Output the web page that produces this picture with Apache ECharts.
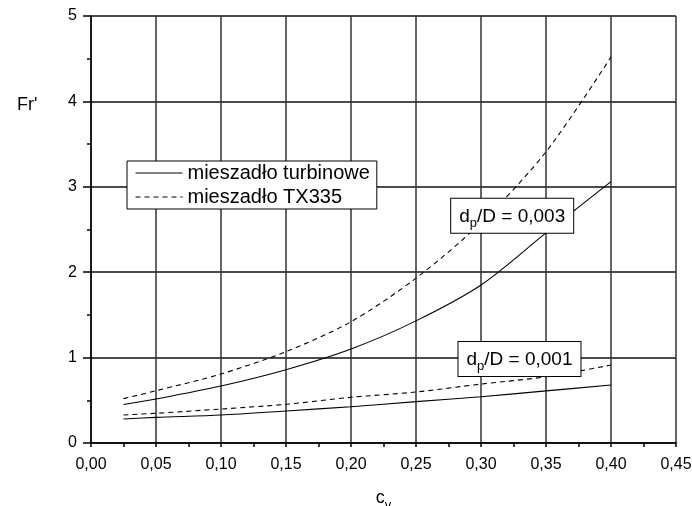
<!DOCTYPE html>
<html>
<head>
<meta charset="utf-8">
<script src="https://cdn.jsdelivr.net/npm/echarts@6/dist/echarts.min.js"></script>
<style>
  html, body { margin: 0; padding: 0; background: #fff; }
  #chart { width: 692px; height: 506px; }
</style>
</head>
<body>
<div id="chart"></div>
<script>
// c_v values where the curves were read
const cv = [0.025, 0.05, 0.10, 0.15, 0.20, 0.25, 0.30, 0.35, 0.40];
// dp/D = 0,003
const turb003 = [0.45, 0.515, 0.667, 0.858, 1.10, 1.43, 1.85, 2.46, 3.06];
const tx003 = [0.52, 0.612, 0.808, 1.07, 1.42, 1.93, 2.58, 3.41, 4.52];
// dp/D = 0,001
const turb001 = [0.281, 0.30, 0.328, 0.375, 0.425, 0.484, 0.542, 0.61, 0.68];
const tx001 = [0.328, 0.348, 0.398, 0.453, 0.535, 0.597, 0.69, 0.776, 0.913];

const seriesNames = ['mieszadło turbinowe', 'mieszadło TX335'];
// annotation anchors (data units) and their texts
const notes = [
  { at: [0.324, 2.66], value: '0,003' },
  { at: [0.3296, 0.984], value: '0,001' },
];

const font = 'Liberation Sans, Arial, sans-serif';
const gridColor = '#333';

const pairs = (ys) => ys.map((y, i) => [cv[i], y]);

const chart = echarts.init(document.getElementById('chart'));

const line = (name, ys, dashed) => ({
  name: name,
  type: 'line',
  data: pairs(ys),
  smooth: 0.3,
  symbol: 'none',
  silent: true,
  z: 3,
  lineStyle: { color: '#000', width: 1.1, type: dashed ? [5, 4] : 'solid' },
  itemStyle: { color: '#000' },
});

chart.setOption({
  animation: false,
  grid: { left: 91, right: 16, top: 16, bottom: 63, outerBoundsMode: 'none' },
  title: {
    text: "Fr'",
    left: 12,
    top: 91,
    textStyle: { fontFamily: font, fontSize: 18, fontWeight: 'normal', color: '#000' },
  },
  legend: {
    data: seriesNames,
    orient: 'vertical',
    left: 127,
    top: 161,
    itemWidth: 47,
    itemHeight: 14,
    itemGap: 4,
    padding: [2, 7, 2, 8],
    borderColor: '#000',
    borderWidth: 1,
    backgroundColor: '#fff',
    selectedMode: false,
    z: 10,
    itemStyle: { opacity: 0 },
    lineStyle: { width: 1 },
    textStyle: { fontFamily: font, fontSize: 20, color: '#000', lineHeight: 20 },
  },
  xAxis: {
    type: 'value',
    min: 0,
    max: 0.45,
    interval: 0.05,
    name: '{c|c}{v|v}',
    nameLocation: 'middle',
    nameGap: 42,
    nameTextStyle: {
      rich: {
        c: { fontFamily: font, fontSize: 18, color: '#000' },
        v: { fontFamily: font, fontSize: 13, color: '#000', padding: [14, 0, 0, 0] },
      },
    },
    axisLine: { show: true, lineStyle: { color: '#000', width: 1.5 } },
    axisTick: { show: true, inside: false, length: 4, lineStyle: { color: '#000', width: 1.5 } },
    minorTick: { show: true, splitNumber: 2, length: 4, lineStyle: { color: '#000', width: 1.5 } },
    axisLabel: {
      margin: 14,
      fontFamily: font,
      fontSize: 16,
      color: '#000',
      formatter: (v) => v.toFixed(2).replace('.', ','),
    },
    splitLine: { show: true, lineStyle: { color: gridColor, width: 1.5 } },
  },
  yAxis: {
    type: 'value',
    min: 0,
    max: 5,
    interval: 1,
    axisLine: { show: true, lineStyle: { color: '#000', width: 1.5 } },
    axisTick: { show: true, inside: false, length: 8, lineStyle: { color: '#000', width: 1.5 } },
    minorTick: { show: true, splitNumber: 2, length: 4, lineStyle: { color: '#000', width: 1.5 } },
    axisLabel: { margin: 14, fontFamily: font, fontSize: 16, color: '#000' },
    splitLine: { show: true, lineStyle: { color: '#111', width: 1.5 } },
  },
  series: [
    line(seriesNames[0], turb003, false),
    line(seriesNames[1], tx003, true),
    line(seriesNames[0], turb001, false),
    line(seriesNames[1], tx001, true),
  ],
});

// boxed labels anchored in data coordinates
chart.setOption({
  graphic: notes.map((n) => {
    const p = chart.convertToPixel({ gridIndex: 0 }, n.at);
    return {
      type: 'text',
      x: p[0],
      y: p[1],
      z: 100,
      silent: true,
      style: {
        text: '{a|d}{b|p}{a|/D = ' + n.value + '}',
        align: 'center',
        verticalAlign: 'middle',
        backgroundColor: '#fff',
        borderColor: '#000',
        borderWidth: 1,
        padding: [4, 8, 3, 8],
        rich: {
          a: { fontFamily: font, fontSize: 19, fill: '#000' },
          b: { fontFamily: font, fontSize: 13, fill: '#000', padding: [14, 0, 0, 0] },
        },
      },
    };
  }),
});

window.addEventListener('resize', () => {
  chart.resize();
});
</script>
</body>
</html>
